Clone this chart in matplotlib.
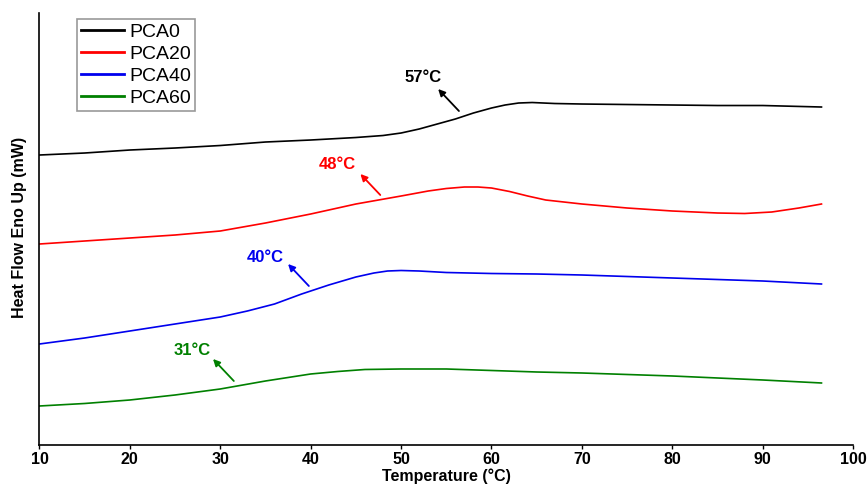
"""DSC heat-flow curves for PCA0..PCA60 with Tg arrows."""
import matplotlib
matplotlib.use("Agg")
import matplotlib.pyplot as plt

plt.rcParams['font.family'] = ['Liberation Sans', 'DejaVu Sans']

# temperature (degC) and heat flow (arbitrary, endo up)
t_pca0 = [10, 15, 20, 25, 30, 35, 40, 45, 48, 50, 52, 54, 56, 58, 60, 61.5,
          63, 64.5, 67, 70, 75, 80, 85, 90, 96.5]
hf_pca0 = [290, 292, 295, 297, 299.5, 303, 305, 307.5, 309.5, 312, 316, 321,
           326, 332, 337, 340, 342, 342.5, 341.5, 341, 340.5, 340, 339.5,
           339.5, 338]

t_pca20 = [10, 15, 20, 25, 30, 35, 40, 45, 50, 53, 55, 57, 58.5, 60, 62, 64,
           66, 70, 75, 80, 85, 88, 91, 94, 96.5]
hf_pca20 = [201, 204, 207, 210, 214, 222, 231, 241, 249, 254, 256.5, 258,
            258, 257, 253.5, 249, 245, 241, 237, 234, 232, 231.5, 233, 237,
            241]

t_pca40 = [10, 15, 20, 25, 30, 33, 36, 39, 42, 45, 47, 48.5, 50, 52, 55, 60,
           65, 70, 75, 80, 85, 90, 96.5]
hf_pca40 = [101, 107, 114, 121, 128, 134, 141, 151, 160, 168, 172, 174,
            174.5, 174, 172.5, 171.5, 171, 170, 168.5, 167, 165.5, 164, 161]

t_pca60 = [10, 15, 20, 25, 30, 35, 40, 43, 46, 50, 55, 60, 65, 70, 75, 80,
           85, 90, 96.5]
hf_pca60 = [39, 41.5, 45, 50, 56, 64, 71, 73.5, 75.5, 76, 76, 74.5, 73, 72,
            70.5, 69, 67, 65, 62]

series = [
    ("PCA0", t_pca0, hf_pca0, "black"),
    ("PCA20", t_pca20, hf_pca20, "#ff0000"),
    ("PCA40", t_pca40, hf_pca40, "#0000ee"),
    ("PCA60", t_pca60, hf_pca60, "#008000"),
]

# glass transition labels: text, text pos, arrow tip, arrow tail
tg_labels = ["57°C", "48°C", "40°C", "31°C"]
tg_text_xy = [(52.4, 368), (42.9, 281), (34.95, 188), (26.9, 94)]
tg_tip_xy = [(54.1, 356), (45.5, 271), (37.5, 181), (29.2, 86)]
tg_tail_xy = [(56.4, 334), (47.7, 250), (39.8, 159), (31.5, 64)]

fig = plt.figure(figsize=(8.67, 4.84), dpi=100)
ax = fig.add_axes([0.0455, 0.0806, 0.9385, 0.8925])

for name, t, hf, c in series:
    ax.plot(t, hf, color=c, lw=1.2, label=name)

for (name, _, _, c), lab, txy, tip, tail in zip(series, tg_labels, tg_text_xy,
                                                 tg_tip_xy, tg_tail_xy):
    ax.annotate("", xy=tip, xytext=tail,
                arrowprops=dict(arrowstyle="-|>", color=c, lw=1.3,
                                mutation_scale=10, shrinkA=0, shrinkB=0))
    ax.text(txy[0], txy[1], lab, color=c, fontsize=12, fontweight='bold',
            ha='center', va='center')

ax.set_xlim(10, 100)
ax.set_ylim(0, 432)
ax.set_xticks(range(10, 101, 10))
ax.set_yticks([])
ax.tick_params(axis='x', direction='out', length=3, width=1, pad=2,
               labelsize=11.5)
for lbl in ax.get_xticklabels():
    lbl.set_fontweight('bold')
ax.spines['top'].set_visible(False)
ax.spines['right'].set_visible(False)
ax.spines['left'].set_linewidth(1.2)
ax.spines['bottom'].set_linewidth(1.2)

ax.set_xlabel("Temperature (°C)", fontsize=11.5, fontweight='bold', labelpad=1)
ax.set_ylabel("Heat Flow Eno Up (mW)", fontsize=11.5, fontweight='bold')
ax.yaxis.set_label_coords(-0.015, 0.503)

leg = ax.legend(loc='upper left', bbox_to_anchor=(0.046, 0.985), borderaxespad=0,
                fontsize=14, handlelength=2.2, labelspacing=0.22,
                handletextpad=0.3, borderpad=0.2, fancybox=False,
                framealpha=1)
leg.get_frame().set_edgecolor('#999999')
leg.get_frame().set_linewidth(1.2)
for line in leg.get_lines():
    line.set_linewidth(2)

fig.savefig("out.png", dpi=100)
